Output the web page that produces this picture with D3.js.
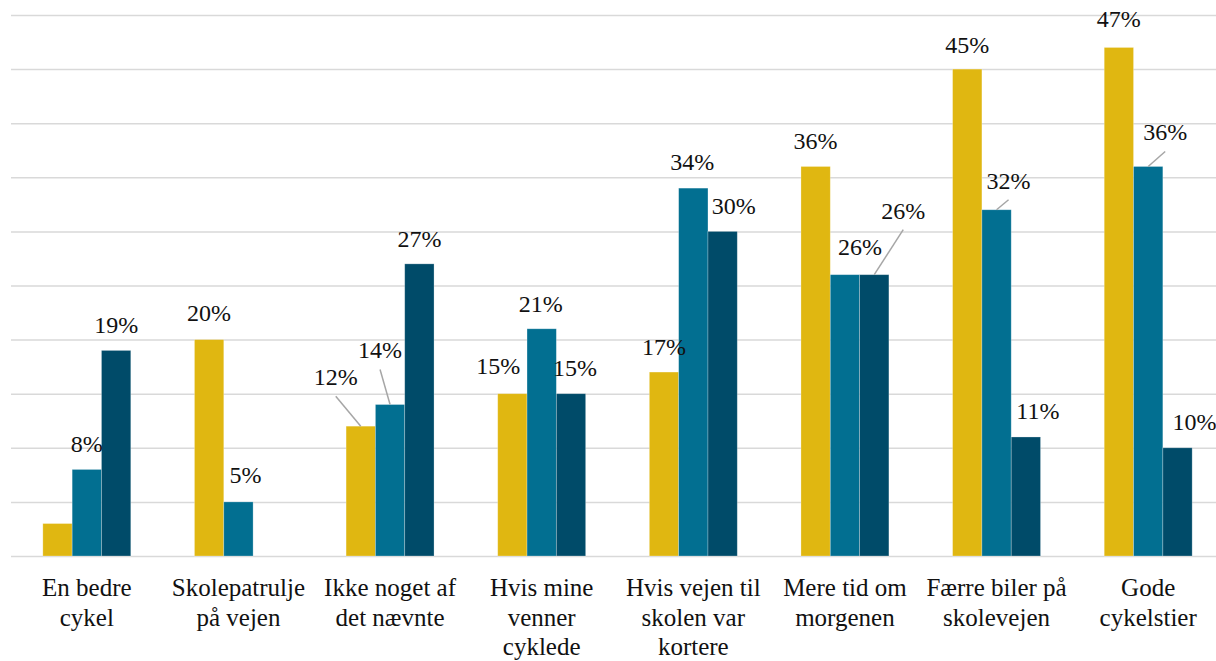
<!DOCTYPE html>
<html>
<head>
<meta charset="utf-8">
<script src="https://cdn.jsdelivr.net/npm/d3@7/dist/d3.min.js"></script>
<style>
  html, body { margin: 0; padding: 0; background: #ffffff; }
  svg { display: block; }
</style>
</head>
<body>
<svg id="chart" width="1216" height="661"></svg>
<script>
// Category names, one entry per wrapped line
const categoryLines = [
  ["En bedre", "cykel"],
  ["Skolepatrulje", "på vejen"],
  ["Ikke noget af", "det nævnte"],
  ["Hvis mine", "venner", "cyklede"],
  ["Hvis vejen til", "skolen var", "kortere"],
  ["Mere tid om", "morgenen"],
  ["Færre biler på", "skolevejen"],
  ["Gode", "cykelstier"]
];
const categories = categoryLines.map(l => l.join(" "));

// Shares in percent for the three groups (null = no bar)
const series1Values = [3, 20, 12, 15, 17, 36, 45, 47];
const series2Values = [8, 5, 14, 21, 34, 26, 32, 36];
const series3Values = [19, null, 27, 15, 30, 26, 11, 10];

// Value label nudges [dx, dy, leader line?] relative to the default spot above the bar
const series1Nudges = [null, [0, -2], [-25, -24, true], [-14, -3], [0, 0], [0, 0], [0, 1], [0, -3]];
const series2Nudges = [[0, 0], [7, -2], [-10, -29, true], [-1, 0], [-1, -1], [15, -3], [12, -4, true], [17, -9, true]];
const series3Nudges = [[0, 0], null, [0, 0], [4, -1], [11, 0], [29, -39, true], [12, -1], [17, -1]];

const yTicks = [0, 5, 10, 15, 20, 25, 30, 35, 40, 45, 50];

const FONT = "'Liberation Serif', 'Times New Roman', monospace";
const seriesKeys = ["s1", "s2", "s3"];
const seriesColors = { s1: "#E0B711", s2: "#026F91", s3: "#004B69" };
const seriesData = { s1: series1Values, s2: series2Values, s3: series3Values };
const seriesNudges = { s1: series1Nudges, s2: series2Nudges, s3: series3Nudges };

const svg = d3.select("#chart");
const W = 1216;
const plot = { left: 11, right: 1224, top: 15, bottom: 556 };

const x0 = d3.scaleBand()
  .domain(categories)
  .range([plot.left, plot.right])
  .paddingInner(0.42)
  .paddingOuter(0.21);

const x1 = d3.scaleBand()
  .domain(seriesKeys)
  .range([0, x0.bandwidth()]);

const y = d3.scaleLinear()
  .domain([0, 50])
  .range([plot.bottom, plot.top]);

// Horizontal gridlines
const grid = svg.append("g")
  .attr("transform", `translate(${plot.left},0)`)
  .call(d3.axisLeft(y).tickValues(yTicks).tickSize(-(W - plot.left)).tickFormat(""));
grid.select(".domain").remove();
grid.selectAll(".tick line").attr("stroke", "#d9d9d9").attr("stroke-width", 1.5);

// Flatten into one record per bar
const bars = [];
categories.forEach((c, i) => {
  seriesKeys.forEach(k => {
    const v = seriesData[k][i];
    if (v == null) return;
    bars.push({ cat: c, key: k, value: v, nudge: seriesNudges[k][i] });
  });
});

const barX = d => x0(d.cat) + x1(d.key);
const barCx = d => barX(d) + x1.bandwidth() / 2;

svg.append("g").selectAll("rect")
  .data(bars)
  .join("rect")
  .attr("x", barX)
  .attr("y", d => y(d.value))
  .attr("width", x1.bandwidth())
  .attr("height", d => y(0) - y(d.value))
  .attr("fill", d => seriesColors[d.key])
  .attr("stroke", "rgba(255,255,255,0.35)")
  .attr("stroke-width", 0.75);

// Value labels
const labelled = bars.filter(d => d.nudge);
const lx = d => barCx(d) + d.nudge[0];
const ly = d => y(d.value) - 25 + d.nudge[1];

svg.append("g").selectAll("line")
  .data(labelled.filter(d => d.nudge[2]))
  .join("line")
  .attr("x1", d => lx(d))
  .attr("y1", d => ly(d) + 19)
  .attr("x2", d => barCx(d))
  .attr("y2", d => y(d.value))
  .attr("stroke", "#a6a6a6")
  .attr("stroke-width", 1.5);

svg.append("g").selectAll("text")
  .data(labelled)
  .join("text")
  .attr("x", lx)
  .attr("y", ly)
  .attr("dy", "0.33em")
  .attr("text-anchor", "middle")
  .style("font-family", FONT)
  .style("font-size", "24px")
  .style("fill", "#111111")
  .text(d => d.value + "%");

// Category axis
const xAxis = svg.append("g")
  .attr("transform", `translate(0,${plot.bottom})`)
  .call(d3.axisBottom(x0).tickSize(0).tickFormat(""));
xAxis.select(".domain").remove();

const catLabels = svg.append("g").selectAll("text")
  .data(categories)
  .join("text")
  .attr("x", d => x0(d) + x0.bandwidth() / 2)
  .attr("y", 596)
  .attr("text-anchor", "middle")
  .style("font-family", FONT)
  .style("font-size", "25px")
  .style("fill", "#111111");

catLabels.selectAll("tspan")
  .data((d, i) => categoryLines[i])
  .join("tspan")
  .attr("x", function () { return d3.select(this.parentNode).attr("x"); })
  .attr("dy", (d, j) => j === 0 ? 0 : 29.5)
  .text(d => d);
</script>
</body>
</html>
